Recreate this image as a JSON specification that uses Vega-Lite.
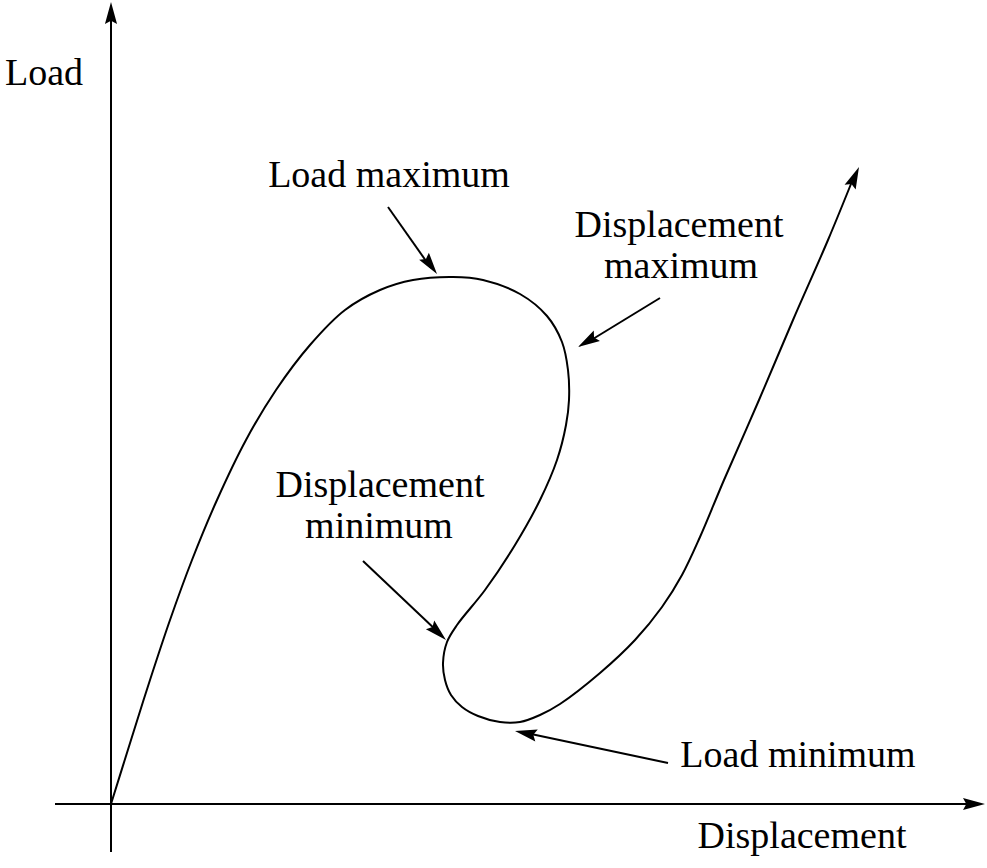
{
  "$schema": "https://vega.github.io/schema/vega-lite/v6.json",
  "width": 987,
  "height": 868,
  "autosize": {"type": "fit", "contains": "padding"},
  "padding": 0,
  "background": "white",
  "config": {"view": {"stroke": null}},
  "datasets": {
    "curve": [
      {"i": 0, "d": 0.0, "L": 0.0},
      {"i": 1, "d": 0.2, "L": 0.64},
      {"i": 2, "d": 0.39, "L": 1.24},
      {"i": 3, "d": 0.59, "L": 1.84},
      {"i": 4, "d": 0.81, "L": 2.44},
      {"i": 5, "d": 1.06, "L": 3.04},
      {"i": 6, "d": 1.35, "L": 3.64},
      {"i": 7, "d": 1.65, "L": 4.14},
      {"i": 8, "d": 1.99, "L": 4.59},
      {"i": 9, "d": 2.34, "L": 4.94},
      {"i": 10, "d": 2.69, "L": 5.14},
      {"i": 11, "d": 3.02, "L": 5.24},
      {"i": 12, "d": 3.42, "L": 5.27},
      {"i": 13, "d": 3.72, "L": 5.24},
      {"i": 14, "d": 4.09, "L": 5.1},
      {"i": 15, "d": 4.36, "L": 4.88},
      {"i": 16, "d": 4.51, "L": 4.62},
      {"i": 17, "d": 4.57, "L": 4.34},
      {"i": 18, "d": 4.58, "L": 4.04},
      {"i": 19, "d": 4.55, "L": 3.79},
      {"i": 20, "d": 4.46, "L": 3.44},
      {"i": 21, "d": 4.29, "L": 3.04},
      {"i": 22, "d": 4.04, "L": 2.59},
      {"i": 23, "d": 3.74, "L": 2.14},
      {"i": 24, "d": 3.46, "L": 1.79},
      {"i": 25, "d": 3.36, "L": 1.62},
      {"i": 26, "d": 3.32, "L": 1.41},
      {"i": 27, "d": 3.34, "L": 1.24},
      {"i": 28, "d": 3.4, "L": 1.09},
      {"i": 29, "d": 3.51, "L": 0.97},
      {"i": 30, "d": 3.67, "L": 0.88},
      {"i": 31, "d": 3.89, "L": 0.82},
      {"i": 32, "d": 4.09, "L": 0.82},
      {"i": 33, "d": 4.29, "L": 0.89},
      {"i": 34, "d": 4.49, "L": 1.0},
      {"i": 35, "d": 4.89, "L": 1.31},
      {"i": 36, "d": 5.24, "L": 1.64},
      {"i": 37, "d": 5.51, "L": 1.97},
      {"i": 38, "d": 5.71, "L": 2.29},
      {"i": 39, "d": 5.89, "L": 2.67},
      {"i": 40, "d": 6.13, "L": 3.24},
      {"i": 41, "d": 6.48, "L": 4.04},
      {"i": 42, "d": 6.82, "L": 4.84},
      {"i": 43, "d": 7.17, "L": 5.64},
      {"i": 44, "d": 7.44, "L": 6.3}
    ],
    "segments": [
      {"d": -0.56, "L": 0.0, "d2": 8.6, "L2": 0.0},
      {"d": 0.0, "L": -0.48, "d2": 0.0, "L2": 7.9},
      {"d": 2.77, "L": 5.97, "d2": 3.2, "L2": 5.36},
      {"d": 5.49, "L": 5.06, "d2": 4.77, "L2": 4.62},
      {"d": 2.52, "L": 2.43, "d2": 3.27, "L2": 1.72},
      {"d": 5.57, "L": 0.41, "d2": 4.2, "L2": 0.7}
    ],
    "heads": [
      {"d": 0.0, "L": 8.02, "angle": 0},
      {"d": 8.74, "L": 0.0, "angle": 90},
      {"d": 7.48, "L": 6.37, "angle": 23.8},
      {"d": 3.26, "L": 5.3, "angle": 143.8},
      {"d": 4.67, "L": 4.57, "angle": 239.1},
      {"d": 3.35, "L": 1.64, "angle": 133.6},
      {"d": 4.04, "L": 0.73, "angle": 281.8}
    ],
    "labels": [
      {"text": "Load maximum", "d": 2.78, "L": 6.17},
      {"text": "Displacement", "d": 5.68, "L": 5.67},
      {"text": "maximum", "d": 5.7, "L": 5.26},
      {"text": "Displacement", "d": 2.69, "L": 3.07},
      {"text": "minimum", "d": 2.68, "L": 2.66},
      {"text": "Load minimum", "d": 6.87, "L": 0.37},
      {"text": "Displacement", "d": 6.91, "L": -0.44}
    ],
    "ylabel": [
      {"text": "Load", "d": -1.06, "L": 7.19}
    ]
  },
  "layer": [
    {
      "data": {"name": "segments"},
      "mark": {"type": "rule", "color": "black", "strokeWidth": 2},
      "encoding": {
        "x": {"field": "d", "type": "quantitative", "scale": {"domain": [-1.11, 8.76], "nice": false, "zero": false}, "axis": null},
        "y": {"field": "L", "type": "quantitative", "scale": {"domain": [-0.64, 8.04], "nice": false, "zero": false}, "axis": null},
        "x2": {"field": "d2"},
        "y2": {"field": "L2"}
      }
    },
    {
      "data": {"name": "curve"},
      "mark": {"type": "line", "color": "black", "strokeWidth": 2, "interpolate": "catmull-rom"},
      "encoding": {
        "x": {"field": "d", "type": "quantitative"},
        "y": {"field": "L", "type": "quantitative"},
        "order": {"field": "i", "type": "quantitative"}
      }
    },
    {
      "data": {"name": "heads"},
      "mark": {"type": "point", "shape": "M0,0L0.55,2L0,1.7L-0.55,2Z", "filled": true, "color": "black", "opacity": 1, "size": 484, "strokeWidth": 0},
      "encoding": {
        "x": {"field": "d", "type": "quantitative"},
        "y": {"field": "L", "type": "quantitative"},
        "angle": {"field": "angle", "type": "quantitative", "scale": null}
      }
    },
    {
      "data": {"name": "labels"},
      "mark": {"type": "text", "font": "Liberation Serif", "fontSize": 38, "color": "black", "baseline": "alphabetic", "align": "center"},
      "encoding": {
        "x": {"field": "d", "type": "quantitative"},
        "y": {"field": "L", "type": "quantitative"},
        "text": {"field": "text"}
      }
    },
    {
      "data": {"name": "ylabel"},
      "mark": {"type": "text", "font": "Liberation Serif", "fontSize": 38, "color": "black", "baseline": "alphabetic", "align": "left"},
      "encoding": {
        "x": {"field": "d", "type": "quantitative"},
        "y": {"field": "L", "type": "quantitative"},
        "text": {"field": "text"}
      }
    }
  ]
}
